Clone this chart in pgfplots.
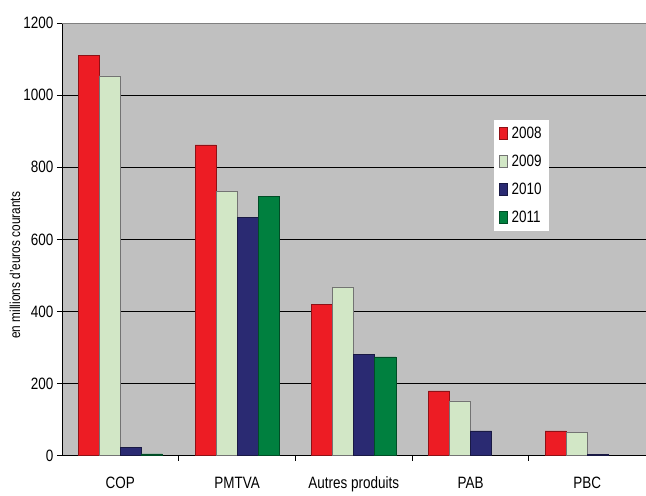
\documentclass[border=0pt]{standalone}
\usepackage{pgfplots}
\pgfplotsset{compat=1.18}
\usepackage{fontspec}
\setmainfont{Liberation Sans}[FakeStretch=0.82]
\definecolor{c08}{HTML}{ED1C24}
\definecolor{c09}{HTML}{D2E7C6}
\definecolor{c10}{HTML}{2A2A72}
\definecolor{c11}{HTML}{00803F}
\definecolor{bg}{HTML}{C0C0C0}
\begin{document}
\begin{tikzpicture}
\begin{axis}[name=ax, scale only axis, width=584bp, height=433bp,
  ybar=0pt, bar width=0.18,
  xmin=-0.5, xmax=4.5, ymin=0, ymax=1200,
  axis background/.style={fill=bg},
  axis x line*=bottom, axis y line*=left,
  axis line style={black, line width=0.8pt},
  /pgf/number format/assume math mode=true,
  /pgf/number format/1000 sep={},
  ytick={0,200,...,1200}, ymajorgrids, grid style={black, line width=0.8pt},
  tick align=outside, major tick length=5bp,
  tick style={black, line width=0.8pt},
  xtick={0.5,1.5,2.5,3.5}, xticklabels={},
  extra x ticks={0,1,2,3,4},
  extra x tick labels={COP,PMTVA,Autres produits,PAB,PBC},
  extra x tick style={major tick length=0pt, tick style={draw=none},
    ticklabel style={anchor=base, yshift=-33bp}},
  ticklabel style={font=\fontsize{16.5}{18}\selectfont},
  ylabel={en millions d'euros courants},
  ylabel style={at={(axis description cs:-0.0805,0.44)}, anchor=center, font=\fontsize{14.5}{16}\selectfont},
  legend style={at={(0.834,0.776)}, anchor=north east, fill=white, draw=none,
    font=\fontsize{16.5}{18}\selectfont, row sep=11bp, column sep=2bp, inner sep=5bp},
  legend cell align=left,
  legend image code/.code={\draw[#1] (0bp,-6bp) rectangle (8bp,6bp);},
  every axis plot/.append style={line width=0.6pt},
  clip=false,
]
\addplot[fill=c08, draw=c08!60!black] coordinates {(0,1109) (1,862) (2,419) (3,180) (4,69)};
\addplot[fill=c09, draw=black!55] coordinates {(0,1053) (1,734) (2,468) (3,152) (4,65)};
\addplot[fill=c10, draw=c10!60!black] coordinates {(0,23) (1,660) (2,282) (3,69) (4,3)};
\addplot[fill=c11, draw=c11!60!black] coordinates {(0,5) (1,718) (2,274)};
\legend{2008,2009,2010,2011}
\draw[black!50, line width=0.8pt] (rel axis cs:0,1) -- (rel axis cs:1,1);
\end{axis}
\path (ax.south west) ++(-62bp,-37bp) rectangle ([yshift=23bp]ax.north east);
\end{tikzpicture}
\end{document}
